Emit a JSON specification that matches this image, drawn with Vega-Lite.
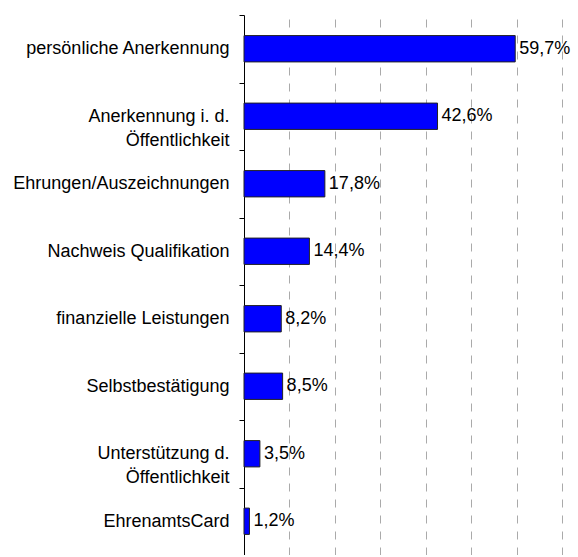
{
  "$schema": "https://vega.github.io/schema/vega-lite/v6.json",
  "width": 318,
  "height": 540,
  "autosize": "none",
  "padding": {"left": 244, "top": 15, "right": 15, "bottom": 0},
  "config": {
    "view": {"stroke": null},
    "font": "Liberation Sans",
    "style": {"guide-label": {"lineBreak": "|"}}
  },
  "data": {
    "values": [
      {"item": "persönliche Anerkennung", "share": 0.597},
      {"item": "Anerkennung i. d.|Öffentlichkeit\u00a0\u00a0\u00a0", "share": 0.426},
      {"item": "Ehrungen/Auszeichnungen", "share": 0.178},
      {"item": "Nachweis Qualifikation", "share": 0.144},
      {"item": "finanzielle Leistungen", "share": 0.082},
      {"item": "Selbstbestätigung", "share": 0.085},
      {"item": "Unterstützung d.|Öffentlichkeit\u00a0\u00a0", "share": 0.035},
      {"item": "EhrenamtsCard", "share": 0.012}
    ]
  },
  "encoding": {
    "y": {
      "field": "item",
      "type": "nominal",
      "sort": null,
      "scale": {"paddingInner": 0.61, "paddingOuter": 0.305},
      "axis": {
        "title": null,
        "tickOffset": -33.75,
        "labelOffset": 33.75,
        "tickSize": 5,
        "tickColor": "black",
        "domainColor": "black",
        "labelFontSize": 18,
        "labelColor": "black",
        "labelLimit": 300,
        "labelLineHeight": 24,
        "labelBaseline": "middle",
        "labelPadding": 10,
        "labelAlign": "right"
      }
    }
  },
  "layer": [
    {
      "mark": {"type": "bar", "fill": "#0000ff", "stroke": "#222222", "strokeWidth": 1},
      "encoding": {
        "x": {
          "field": "share",
          "type": "quantitative",
          "scale": {"domain": [0, 0.7], "nice": false},
          "axis": {
            "title": null,
            "grid": true,
            "values": [0.1, 0.2, 0.3, 0.4, 0.5, 0.6, 0.7],
            "labels": false,
            "ticks": false,
            "domain": false,
            "gridDash": [8, 8],
            "gridColor": "#aaaaaa",
            "gridWidth": 1
          }
        }
      }
    },
    {
      "mark": {"type": "text", "align": "left", "baseline": "middle", "dx": 4, "fontSize": 18, "color": "black", "text": {"expr": "replace(format(datum.share, '.1%'), '.', ',')"}},
      "encoding": {
        "x": {"field": "share", "type": "quantitative"}
      }
    }
  ]
}
